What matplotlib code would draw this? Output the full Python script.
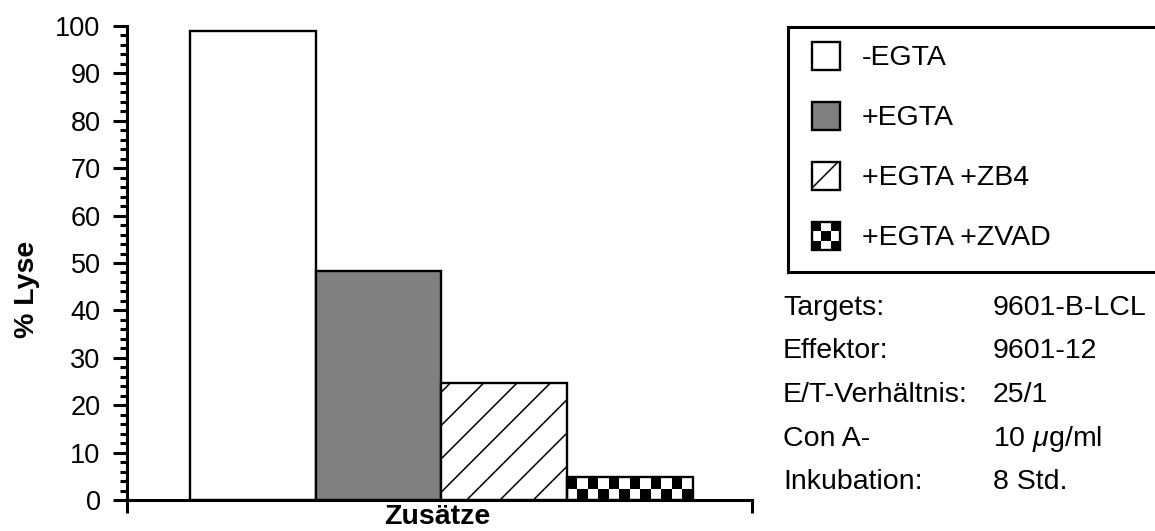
import numpy as np
import matplotlib.pyplot as plt
from matplotlib.patches import Rectangle

plt.rcParams['font.family'] = ['Liberation Sans', 'DejaVu Sans']
plt.rcParams['mathtext.fontset'] = 'custom'
plt.rcParams['mathtext.rm'] = 'Liberation Sans'
plt.rcParams['mathtext.it'] = 'Liberation Sans:italic'
plt.rcParams['hatch.linewidth'] = 1.1

# data
labels = ['-EGTA', '+EGTA', '+EGTA +ZB4', '+EGTA +ZVAD']
lyse = [99.0, 48.3, 24.6, 4.9]
info_keys = ['Targets:', 'Effektor:', 'E/T-Verhältnis:', 'Con A-', 'Inkubation:']
info_vals = ['9601-B-LCL', '9601-12', '25/1', '10 $\\mu$g/ml', '8 Std.']

W, H = 1155, 531
FS = 19.5     # tick labels
FT = 20.5     # legend / info text

def fx(px):
    return px / W

def fy(py):
    return 1 - py / H

fig = plt.figure(figsize=(W / 100, H / 100), dpi=100)
ax = fig.add_axes([fx(127), fy(500), fx(752 - 127), (500 - 26) / H])

x = np.arange(len(lyse))
bars = ax.bar(x, lyse, width=1.0, color=['white', '#808080', 'white', 'none'],
              edgecolor='black', linewidth=1.7, zorder=2)
bars[2].set_hatch('/')

# checkerboard fill for the last bar
b = bars[3]
cols = 12
cell_h = 2.35
rows = int(np.ceil(b.get_height() / cell_h)) + 1
checker = np.indices((rows, cols)).sum(axis=0) % 2
im = ax.imshow(checker, cmap='gray_r', origin='lower', interpolation='nearest',
               extent=(b.get_x(), b.get_x() + b.get_width(), 0, rows * cell_h),
               aspect='auto', zorder=1)
im.set_clip_path(b)

ax.set_xlim(-1.0, 3.97)
ax.set_ylim(0, 100)
ax.spines['top'].set_visible(False)
ax.spines['right'].set_visible(False)
for s in ['left', 'bottom']:
    ax.spines[s].set_linewidth(2.2)

ax.set_yticks(np.arange(0, 101, 10))
ax.set_yticks(np.arange(0, 101, 2), minor=True)
ax.tick_params(axis='y', which='major', length=10, width=2.2, labelsize=FS, pad=9)
ax.tick_params(axis='y', which='minor', length=5, width=2.2)
ax.set_xticks(ax.get_xlim())
ax.set_xticklabels([])
ax.tick_params(axis='x', which='major', length=9, width=2.2)

fig.text(fx(27), fy(289), '% Lyse', rotation=90, ha='center', va='center',
         fontsize=20.5, fontweight='bold')
fig.text(fx(437), fy(517), 'Zusätze', ha='center', va='center',
         fontsize=20.5, fontweight='bold')

# legend box
lax = fig.add_axes([fx(788), fy(272), (1170 - 788) / W, (272 - 27) / H])
for s in lax.spines.values():
    s.set_linewidth(2.2)

for i, lab in enumerate(labels):
    r = 29 + 60 * i
    if i == 3:
        sw = Rectangle((24, r - 14), 28, 28, facecolor='none', edgecolor='black',
                       linewidth=1.7, zorder=3)
        lax.add_patch(sw)
        chk = (np.indices((3, 3)).sum(axis=0) + 1) % 2
        sim = lax.imshow(chk, cmap='gray_r', origin='upper', interpolation='nearest',
                         extent=(24, 52, r + 14, r - 14), aspect='auto', zorder=2)
        sim.set_clip_path(sw)
    else:
        sw = Rectangle((24, r - 14), 28, 28, facecolor=bars[i].get_facecolor(),
                       edgecolor='black', linewidth=1.7, hatch=bars[i].get_hatch())
        lax.add_patch(sw)
    lax.text(74, r + 9, lab, fontsize=FT, va='baseline', ha='left')
lax.set_xlim(0, 1170 - 788)
lax.set_ylim(272 - 27, 0)
lax.set_xticks([])
lax.set_yticks([])

for i, (k, v) in enumerate(zip(info_keys, info_vals)):
    yb = 315 + 43.5 * i
    fig.text(fx(783), fy(yb), k, fontsize=FT, va='baseline', ha='left')
    fig.text(fx(993), fy(yb), v, fontsize=FT, va='baseline', ha='left')

fig.savefig('out.png', dpi=100)
